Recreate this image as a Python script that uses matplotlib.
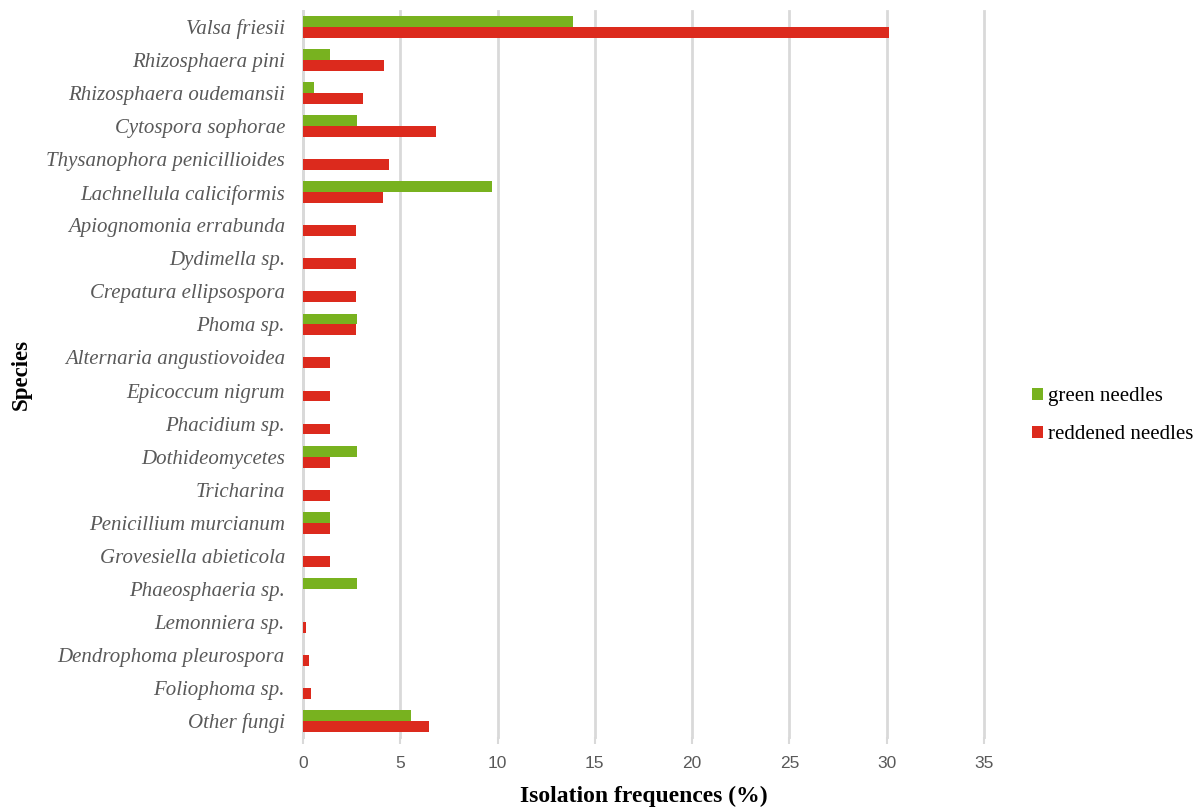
import numpy as np
import matplotlib.pyplot as plt

species = [
    "Valsa friesii", "Rhizosphaera pini", "Rhizosphaera oudemansii",
    "Cytospora sophorae", "Thysanophora penicillioides",
    "Lachnellula caliciformis", "Apiognomonia errabunda", "Dydimella sp.",
    "Crepatura ellipsospora", "Phoma sp.", "Alternaria angustiovoidea",
    "Epicoccum nigrum", "Phacidium sp.", "Dothideomycetes", "Tricharina",
    "Penicillium murcianum", "Grovesiella abieticola", "Phaeosphaeria sp.",
    "Lemonniera sp.", "Dendrophoma pleurospora", "Foliophoma sp.",
    "Other fungi",
]
green = [13.89, 1.39, 0.56, 2.78, 0, 9.72, 0, 0, 0, 2.78, 0, 0, 0, 2.78,
         0, 1.39, 0, 2.78, 0, 0, 0, 5.56]
red = [30.1, 4.17, 3.1, 6.85, 4.4, 4.1, 2.74, 2.74, 2.74, 2.74, 1.37, 1.37,
       1.37, 1.37, 1.37, 1.37, 1.37, 0, 0.17, 0.31, 0.4, 6.5]
xticks = [0, 5, 10, 15, 20, 25, 30, 35]

green_col = "#78B21F"
red_col = "#DC2A1D"
grid_col = "#D9D9D9"

fig = plt.figure(figsize=(11.96, 8.09), dpi=100)
ax = fig.add_axes([0.2533, 0.0884, 0.5694, 0.8986])

y = np.arange(len(species))
h = 0.33
ax.barh(y - h / 2, green, height=h, color=green_col, label="green needles",
        zorder=3)
ax.barh(y + h / 2, red, height=h, color=red_col, label="reddened needles",
        zorder=3)

ax.set_ylim(len(species) - 0.5, -0.5)
ax.set_xlim(0, 35)
ax.set_xticks(xticks)
ax.set_xticklabels([str(t) for t in xticks], family="Liberation Sans",
                   fontsize=12.5, color="#595959")
ax.set_yticks(y)
ax.set_yticklabels(species, family="Liberation Serif", style="italic",
                   fontsize=15, color="#595959")

ax.grid(axis="x", color=grid_col, linewidth=2, zorder=0)
for gl in ax.get_xgridlines():
    gl.set_clip_on(False)
for s in ["top", "right", "bottom"]:
    ax.spines[s].set_visible(False)
ax.spines["left"].set_color(grid_col)
ax.spines["left"].set_linewidth(2)
ax.tick_params(axis="y", length=0, pad=13)
ax.tick_params(axis="x", length=5, width=1.5, color=grid_col, pad=8)

fig.text(0.018, 0.5365, "Species", rotation=90, family="Liberation Serif",
         fontweight="bold", fontsize=16.5, ha="center", va="center")
fig.text(0.538, 0.015, "Isolation frequences (%)", family="Liberation Serif",
         fontweight="bold", fontsize=17, ha="center", va="center")

fig.legend(loc="center left", bbox_to_anchor=(0.8629, 0.486),
           prop={"family": "Liberation Serif", "size": 15},
           frameon=False, handlelength=0.55, handleheight=0.55,
           handletextpad=0.22, labelspacing=0.92, borderaxespad=0,
           borderpad=0)

fig.savefig("out.png", dpi=100)
